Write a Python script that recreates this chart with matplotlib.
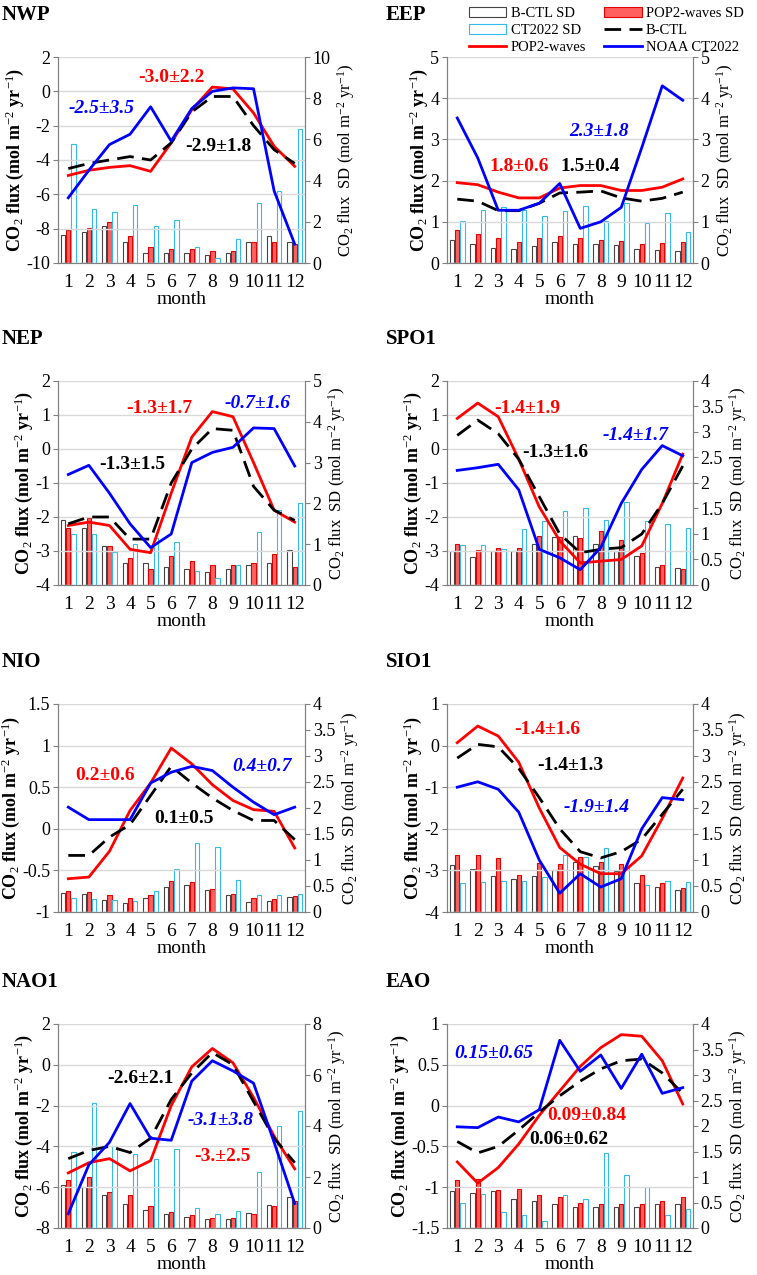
import matplotlib.pyplot as plt
import numpy as np

plt.rcParams['font.family'] = 'Liberation Serif'
plt.rcParams['mathtext.fontset'] = 'custom'
plt.rcParams['mathtext.rm'] = 'Liberation Serif'
plt.rcParams['mathtext.it'] = 'Liberation Serif:italic'
plt.rcParams['mathtext.bf'] = 'Liberation Serif:bold'

months = np.arange(1, 13)
month_labels = [str(m) for m in months]

# Panel data: flux lines (left axis) and SD bars (right axis)
nwp_pop = [-4.9, -4.6, -4.43, -4.33, -4.66, -3.0, -1.07, 0.25, 0.14, -1.26, -3.2, -4.37]
nwp_ctl = [-4.5, -4.2, -4.0, -3.8, -4.0, -3.0, -1.2, -0.3, -0.3, -2.0, -3.4, -4.2]
nwp_ct = [-6.2, -4.6, -3.1, -2.5, -0.9, -2.9, -1.0, 0.0, 0.2, 0.15, -5.8, -8.9]
nwp_ctl_sd = [1.36, 1.5, 1.8, 1.0, 0.5, 0.5, 0.5, 0.4, 0.5, 1.0, 1.3, 1.0]
nwp_pop_sd = [1.6, 1.7, 2.0, 1.3, 0.8, 0.7, 0.7, 0.6, 0.6, 1.0, 1.0, 0.9]
nwp_ct_sd = [5.8, 2.6, 2.5, 2.8, 1.8, 2.1, 0.8, 0.25, 1.15, 2.9, 3.5, 6.5]

eep_pop = [1.95, 1.9, 1.72, 1.58, 1.58, 1.82, 1.88, 1.88, 1.76, 1.76, 1.84, 2.04]
eep_ctl = [1.55, 1.5, 1.27, 1.27, 1.45, 1.7, 1.72, 1.75, 1.58, 1.5, 1.57, 1.72]
eep_ct = [3.52, 2.55, 1.28, 1.28, 1.45, 1.93, 0.84, 1.0, 1.35, 2.8, 4.3, 3.95]
eep_ctl_sd = [0.55, 0.45, 0.36, 0.34, 0.41, 0.5, 0.47, 0.47, 0.43, 0.35, 0.31, 0.28]
eep_pop_sd = [0.8, 0.7, 0.6, 0.5, 0.6, 0.66, 0.6, 0.57, 0.53, 0.45, 0.48, 0.52]
eep_ct_sd = [1.03, 1.29, 1.35, 1.28, 1.13, 1.26, 1.39, 1.03, 1.46, 0.97, 1.22, 0.76]

nep_pop = [-2.25, -2.15, -2.25, -2.95, -3.05, -1.3, 0.35, 1.1, 0.95, -0.4, -1.8, -2.15]
nep_ctl = [-2.2, -2.0, -2.0, -2.65, -2.65, -1.0, 0.0, 0.6, 0.55, -1.1, -1.8, -2.1]
nep_ct = [-0.75, -0.48, -1.3, -2.2, -2.9, -2.5, -0.4, -0.1, 0.05, 0.62, 0.6, -0.5]
nep_ctl_sd = [1.6, 1.4, 0.95, 0.55, 0.55, 0.45, 0.4, 0.33, 0.4, 0.48, 0.55, 0.85]
nep_pop_sd = [1.4, 1.65, 0.95, 0.65, 0.4, 0.7, 0.58, 0.5, 0.5, 0.55, 0.75, 0.45]
nep_ct_sd = [1.25, 1.25, 0.8, 1.0, 1.15, 1.05, 0.35, 0.17, 0.5, 1.3, 1.85, 2.0]

spo_pop = [0.9, 1.35, 0.95, -0.3, -1.7, -2.7, -3.35, -3.3, -3.25, -2.85, -1.6, -0.15]
spo_ctl = [0.4, 0.85, 0.45, -0.3, -1.4, -2.5, -3.05, -2.95, -2.9, -2.5, -1.6, -0.5]
spo_ct = [-0.63, -0.55, -0.45, -1.2, -2.95, -3.2, -3.55, -2.9, -1.6, -0.6, 0.1, -0.2]
spo_ctl_sd = [0.66, 0.55, 0.66, 0.66, 0.8, 0.95, 0.96, 0.8, 0.66, 0.56, 0.36, 0.33]
spo_pop_sd = [0.8, 0.68, 0.73, 0.73, 0.96, 0.95, 0.92, 1.06, 0.88, 0.62, 0.4, 0.32]
spo_ct_sd = [0.78, 0.78, 0.7, 1.1, 1.25, 1.45, 1.5, 1.28, 1.62, 1.25, 1.2, 1.12]

nio_pop = [-0.6, -0.58, -0.27, 0.22, 0.55, 0.97, 0.78, 0.53, 0.34, 0.23, 0.21, -0.23]
nio_ctl = [-0.32, -0.32, -0.1, 0.05, 0.4, 0.75, 0.55, 0.37, 0.22, 0.1, 0.1, -0.13]
nio_ct = [0.26, 0.11, 0.11, 0.11, 0.55, 0.68, 0.75, 0.7, 0.5, 0.32, 0.17, 0.26]
nio_ctl_sd = [0.37, 0.34, 0.24, 0.17, 0.27, 0.48, 0.52, 0.42, 0.32, 0.2, 0.22, 0.28]
nio_pop_sd = [0.4, 0.38, 0.33, 0.27, 0.32, 0.6, 0.58, 0.45, 0.35, 0.27, 0.25, 0.3]
nio_ct_sd = [0.27, 0.25, 0.24, 0.22, 0.4, 0.83, 1.32, 1.25, 0.62, 0.32, 0.32, 0.35]

sio_pop = [0.07, 0.47, 0.23, -0.4, -1.5, -2.45, -2.85, -3.08, -3.08, -2.65, -1.75, -0.78]
sio_ctl = [-0.3, 0.03, -0.03, -0.55, -1.25, -2.0, -2.55, -2.7, -2.55, -2.25, -1.65, -1.05]
sio_ct = [-1.0, -0.87, -1.05, -1.6, -2.75, -3.55, -3.08, -3.4, -3.2, -2.0, -1.25, -1.3]
sio_ctl_sd = [0.9, 0.82, 0.7, 0.64, 0.7, 0.8, 0.97, 0.88, 0.78, 0.56, 0.48, 0.43]
sio_pop_sd = [1.1, 1.1, 1.03, 0.72, 0.95, 0.93, 1.05, 0.96, 0.92, 0.72, 0.56, 0.46]
sio_ct_sd = [0.56, 0.58, 0.6, 0.6, 0.68, 1.1, 1.06, 1.24, 0.85, 0.52, 0.6, 0.57]

nao_pop = [-5.3, -4.8, -4.6, -5.2, -4.7, -2.0, -0.1, 0.8, 0.1, -1.6, -3.5, -5.1]
nao_ctl = [-4.6, -4.2, -4.0, -4.3, -3.6, -1.7, -0.4, 0.6, 0.0, -1.8, -3.6, -4.8]
nao_ct = [-7.3, -4.9, -3.8, -1.9, -3.6, -3.7, -0.8, 0.2, -0.3, -0.9, -3.8, -6.8]
nao_ctl_sd = [1.7, 1.6, 1.3, 0.95, 0.7, 0.55, 0.42, 0.35, 0.35, 0.6, 0.9, 1.2]
nao_pop_sd = [1.9, 2.0, 1.4, 1.3, 0.85, 0.62, 0.5, 0.4, 0.4, 0.55, 0.85, 1.05]
nao_ct_sd = [3.0, 4.9, 3.2, 2.9, 2.7, 3.1, 0.8, 0.55, 0.65, 2.2, 4.0, 4.6]

eao_pop = [-0.69, -0.95, -0.76, -0.47, -0.12, 0.18, 0.48, 0.71, 0.87, 0.85, 0.55, 0.02]
eao_ctl = [-0.44, -0.58, -0.5, -0.3, -0.08, 0.12, 0.3, 0.45, 0.55, 0.57, 0.4, 0.15]
eao_ct = [-0.26, -0.27, -0.14, -0.2, -0.05, 0.8, 0.42, 0.62, 0.21, 0.63, 0.15, 0.22]
eao_ctl_sd = [0.73, 0.68, 0.72, 0.57, 0.52, 0.47, 0.42, 0.42, 0.42, 0.42, 0.47, 0.47]
eao_pop_sd = [0.94, 0.96, 0.75, 0.77, 0.65, 0.6, 0.5, 0.47, 0.47, 0.47, 0.52, 0.6]
eao_ct_sd = [0.5, 0.66, 0.32, 0.25, 0.13, 0.64, 0.57, 1.48, 1.03, 0.8, 0.25, 0.38]

# name, lines, bars, left limits/step, right limits/step, annotations (text, month, y, colour, italic)
panels = [
    ("NWP", (nwp_pop, nwp_ctl, nwp_ct), (nwp_ctl_sd, nwp_pop_sd, nwp_ct_sd), (-10, 2, 2), (0, 10, 2),
     [("-2.5±3.5", 2.6, -1.0, "blue", True), ("-3.0±2.2", 6.0, 0.8, "red", False), ("-2.9±1.8", 8.3, -3.2, "black", False)]),
    ("EEP", (eep_pop, eep_ctl, eep_ct), (eep_ctl_sd, eep_pop_sd, eep_ct_sd), (0, 5, 1), (0, 5, 1),
     [("1.8±0.6", 4.0, 2.35, "red", False), ("1.5±0.4", 7.5, 2.35, "black", False), ("2.3±1.8", 7.9, 3.2, "blue", True)]),
    ("NEP", (nep_pop, nep_ctl, nep_ct), (nep_ctl_sd, nep_pop_sd, nep_ct_sd), (-4, 2, 1), (0, 5, 1),
     [("-1.3±1.7", 5.4, 1.2, "red", False), ("-0.7±1.6", 10.2, 1.35, "blue", True), ("-1.3±1.5", 4.1, -0.45, "black", False)]),
    ("SPO1", (spo_pop, spo_ctl, spo_ct), (spo_ctl_sd, spo_pop_sd, spo_ct_sd), (-4, 2, 1), (0, 4, 0.5),
     [("-1.4±1.9", 4.4, 1.2, "red", False), ("-1.3±1.6", 5.8, -0.1, "black", False), ("-1.4±1.7", 9.7, 0.4, "blue", True)]),
    ("NIO", (nio_pop, nio_ctl, nio_ct), (nio_ctl_sd, nio_pop_sd, nio_ct_sd), (-1, 1.5, 0.5), (0, 4, 0.5),
     [("0.2±0.6", 2.8, 0.64, "red", False), ("0.4±0.7", 10.4, 0.75, "blue", True), ("0.1±0.5", 6.6, 0.12, "black", False)]),
    ("SIO1", (sio_pop, sio_ctl, sio_ct), (sio_ctl_sd, sio_pop_sd, sio_ct_sd), (-4, 1, 1), (0, 4, 0.5),
     [("-1.4±1.6", 5.4, 0.39, "red", False), ("-1.4±1.3", 6.5, -0.47, "black", False), ("-1.9±1.4", 7.8, -1.5, "blue", True)]),
    ("NAO1", (nao_pop, nao_ctl, nao_ct), (nao_ctl_sd, nao_pop_sd, nao_ct_sd), (-8, 2, 2), (0, 8, 2),
     [("-2.6±2.1", 4.5, -0.66, "black", False), ("-3.1±3.8", 8.4, -2.75, "blue", True), ("-3.±2.5", 8.5, -4.5, "red", False)]),
    ("EAO", (eao_pop, eao_ctl, eao_ct), (eao_ctl_sd, eao_pop_sd, eao_ct_sd), (-1.5, 1, 0.5), (0, 4, 0.5),
     [("0.15±0.65", 2.8, 0.64, "blue", True), ("0.09±0.84", 7.3, -0.12, "red", False), ("0.06±0.62", 6.45, -0.41, "black", False)]),
]

W, H = 757, 1275
fig = plt.figure(figsize=(W / 100, H / 100), dpi=100)
col_x = [(58, 305), (447, 693)]
row_y = [(57, 263), (381, 585), (704, 912), (1024, 1228)]
title_x = [2, 386]

def fmt(v):
    return f"{v:g}"

handles = None
for i, (name, lines, bars, ylim, y2lim, notes) in enumerate(panels):
    r, c = divmod(i, 2)
    x0, x1 = col_x[c]
    y0, y1 = row_y[r]
    ax = fig.add_axes([x0 / W, 1 - y1 / H, (x1 - x0) / W, (y1 - y0) / H])
    ax2 = ax.twinx()

    w = 0.25
    b1 = ax2.bar(months - w, bars[0], w * 0.85, color="white", edgecolor="#444444", linewidth=0.8, label="B-CTL SD")
    b2 = ax2.bar(months, bars[1], w * 0.85, color="#ff6060", edgecolor="#e00000", linewidth=0.8, label="POP2-waves SD")
    b3 = ax2.bar(months + w, bars[2], w * 0.85, color="white", edgecolor="#33bbee", linewidth=0.8, label="CT2022 SD")
    ax2.set_ylim(y2lim[0], y2lim[1])
    ax2.set_yticks(np.arange(y2lim[0], y2lim[1] + 1e-9, y2lim[2]))
    ax2.set_yticklabels([fmt(v) for v in ax2.get_yticks()])

    ax.set_zorder(ax2.get_zorder() + 1)
    ax.patch.set_visible(False)
    l1, = ax.plot(months, lines[0], color="red", lw=2, label="POP2-waves")
    l2, = ax.plot(months, lines[1], color="black", lw=2, ls=(0, (6, 3)), label="B-CTL")
    l3, = ax.plot(months, lines[2], color="blue", lw=2, label="NOAA CT2022")
    ax.set_ylim(ylim[0], ylim[1])
    ax.set_yticks(np.arange(ylim[0], ylim[1] + 1e-9, ylim[2]))
    ax.set_yticklabels([fmt(v) for v in ax.get_yticks()])
    ax.yaxis.grid(True, color="#d9d9d9", lw=1)
    ax.set_axisbelow(True)
    ax.set_xlim(0.5, 12.5)
    ax.set_xticks(months)
    ax.set_xticklabels(month_labels)
    ax.tick_params(axis="x", length=0, labelsize=14, pad=8)
    ax.tick_params(axis="y", labelsize=13, direction="out", color="gray", pad=2)
    ax2.tick_params(axis="y", labelsize=13, direction="out", color="gray", pad=2)
    for a in (ax, ax2):
        a.spines["top"].set_visible(False)
        for s in ("left", "right", "bottom"):
            a.spines[s].set_color("gray")
    ax.set_xlabel("month", fontsize=14, labelpad=0)
    ax.set_ylabel(r"CO$_2$ flux (mol m$^{-2}$ yr$^{-1}$)", fontsize=13, fontweight="bold", labelpad=0)
    ax2.set_ylabel(r"CO$_2$ flux  SD (mol m$^{-2}$ yr$^{-1}$)", fontsize=12, labelpad=3)

    for text, mx, my, colr, ital in notes:
        ax.text(mx, my, text, color=colr, fontsize=14, fontweight="bold",
                fontstyle="italic" if ital else "normal", ha="center", va="center")

    fig.text(title_x[c] / W, 1 - (y0 - 42) / H, name, fontsize=15, fontweight="bold", va="center")
    handles = [b1, b3, l1, b2, l2, l3]

fig.legend(handles, [h.get_label() for h in handles], ncol=2, loc="upper right",
           bbox_to_anchor=(1.0, 1.005), frameon=False, fontsize=10.5, handlelength=2.6,
           columnspacing=1.2, labelspacing=0.25, handletextpad=0.3)

fig.savefig("out.png", dpi=100)
